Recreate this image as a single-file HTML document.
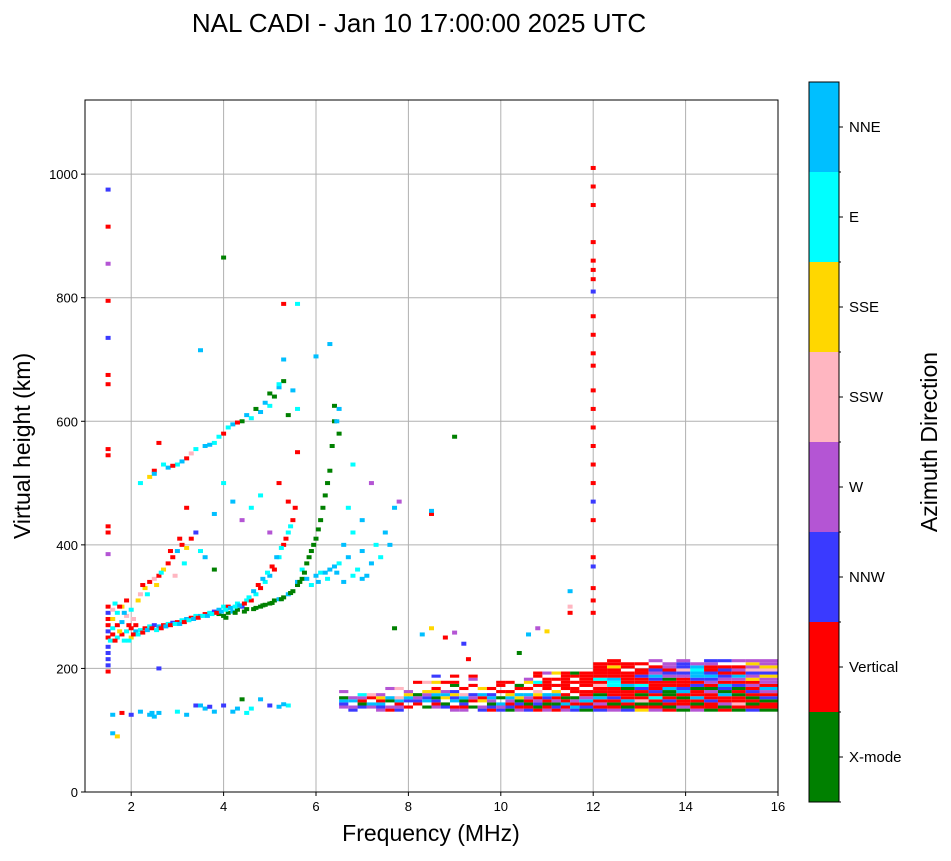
<!DOCTYPE html>
<html><head><meta charset="utf-8"><style>
body{margin:0;background:#fff;font-family:"Liberation Sans",sans-serif}
svg text{font-family:"Liberation Sans",sans-serif}
</style></head><body>
<svg id="chart" width="951" height="856">
<text x="419" y="32" font-size="26" text-anchor="middle">NAL CADI - Jan 10 17:00:00 2025 UTC</text>
<g id="grid"></g><g id="marks"></g><g id="axes"></g><g id="cbar"></g>
</svg>
<script>
const xTicks=[2,4,6,8,10,12,14,16];
const yTicks=[0,200,400,600,800,1000];
const cbLabels=["X-mode","Vertical","NNW","W","SSW","SSE","E","NNE"];
const cbColors=["#008000","#ff0000","#3a3aff","#b455d4","#ffb6c1","#ffd700","#00ffff","#00bfff"];
const codeMap={g:0,r:1,b:2,p:3,k:4,y:5,c:6,s:7};
// scattered echo cells: freq,height,colorcode
const cells=("1.5,195,r 1.5,205,b 1.5,215,b 1.5,225,b 1.5,235,b 1.5,250,r 1.5,260,b 1.5,270,r 1.5,280,r 1.5,290,b 1.5,300,r 1.5,385,p 1.5,420,r 1.5,430,r 1.5,545,r 1.5,555,r 1.5,660,r 1.5,675,r 1.5,735,b 1.5,795,r 1.5,855,p 1.5,915,r 1.5,975,b "+
"1.6,255,r 1.6,265,c 1.6,280,y 1.6,295,k 1.7,250,c 1.7,270,r 1.7,290,c 1.8,255,r 1.8,275,s 1.8,300,y 1.9,260,c 1.9,285,k 1.9,310,r 2.0,250,y 2.0,265,r 2.0,295,c 2.1,260,s 2.1,270,r 2.2,262,c 2.2,320,k 2.3,265,r 2.3,330,y 2.4,268,c 2.4,340,r 2.5,270,b 2.5,345,k 2.6,268,s 2.6,350,r 2.7,270,r 2.7,360,y 2.8,272,c 2.8,370,r 2.9,274,b 2.9,380,r 3.0,275,r 3.0,390,s 3.1,278,c 3.1,400,r 3.2,280,s 3.2,395,y 3.3,282,r 3.3,410,r 3.4,285,c 3.4,420,b 3.5,285,s 3.5,390,c 3.6,288,r 3.6,380,s 3.7,290,c 3.8,292,b 3.8,360,g 3.9,288,g 3.9,295,s 4.0,285,g 4.0,300,c 4.1,290,g 4.1,300,r 4.2,292,s 4.3,295,g 4.3,305,c 4.4,300,b 4.5,296,g 4.5,310,c 4.6,310,r 4.7,298,g 4.7,320,c 4.8,300,g 4.8,330,r 4.9,303,g 4.9,340,c 5.0,305,g 5.0,350,s 5.1,310,g 5.1,360,r 5.2,312,s 5.2,380,c 5.3,315,g 5.3,400,r 5.4,320,s 5.4,420,c 5.5,325,g 5.5,440,r 5.6,335,g 5.6,340,s 5.7,345,g 5.7,360,c 5.8,370,g 5.8,345,s 5.9,390,g 5.9,335,c 6.0,410,g 6.0,350,s 6.1,440,g 6.1,355,c 6.2,480,g 6.2,355,s 6.3,520,g 6.3,360,s 6.4,600,g 6.4,625,g 6.4,365,s 6.5,620,s 6.5,370,c 6.7,380,s 6.9,360,c 7.0,390,s 7.1,350,s 7.3,400,c 7.5,420,s 7.7,460,s 7.8,470,p "+
"1.55,245,c 1.65,245,r 1.65,305,c 1.75,300,r 1.75,260,y 1.85,245,c 1.85,290,s 1.95,270,r 1.95,245,c 2.05,255,r 2.05,280,k 2.15,255,c 2.15,310,y 2.25,258,r 2.25,335,r 2.35,262,s 2.35,320,c 2.45,265,r 2.55,262,c 2.55,335,y 2.65,265,r 2.65,355,c 2.75,268,s 2.85,270,r 2.85,390,r 2.95,272,c 2.95,350,k 3.05,272,s 3.05,410,r 3.15,275,r 3.15,370,c 3.25,278,c 3.35,280,s 3.45,282,r 3.55,285,c 3.65,285,s 3.75,288,c 3.85,290,r 3.95,292,s 4.05,295,c 4.15,298,s 4.25,300,c 4.35,302,s 4.45,305,r 4.55,315,c 4.65,325,s 4.75,335,r 4.85,345,s 4.95,355,c 5.05,365,r 5.15,380,s 5.25,395,c 5.35,410,r 5.45,430,c 5.55,460,r 4.05,282,g 4.25,290,g 4.45,292,g 4.65,296,g 4.85,302,g 5.05,306,g 5.25,312,g 5.45,322,g 5.65,340,g 5.75,355,g 5.85,380,g 5.95,400,g 6.05,425,g 6.15,460,g 6.25,500,g 6.35,560,g 6.45,600,s 6.05,340,s 6.25,345,c 6.45,355,s 6.6,340,s 6.8,350,c 7.0,345,s 7.2,370,s 7.4,380,c 7.6,400,s 6.6,400,s 6.8,420,c 7.0,440,s 6.7,460,c "+
"2.2,500,c 2.4,510,y 2.5,520,r 2.6,565,r 2.8,525,s 3.0,530,c 3.2,540,r 3.4,555,c 3.6,560,s 3.8,565,c 4.0,580,r 4.2,595,s 4.4,600,g 4.6,605,c 4.8,615,s 5.0,625,c 5.1,640,g 5.2,655,s 5.3,665,g 5.5,650,s 5.6,620,c 5.3,700,s 5.6,790,c 5.3,790,r 4.0,865,g 3.5,715,s 6.3,725,s 6.0,705,s 6.5,580,g 6.8,530,c 7.2,500,p 8.5,450,r 8.5,455,s 9.0,575,g "+
"2.5,515,s 2.7,530,c 2.9,528,r 3.1,535,s 3.3,548,k 3.7,562,s 3.9,575,c 4.1,590,c 4.3,598,r 4.5,610,s 4.7,620,g 4.9,630,s 5.0,645,g 5.2,660,c 5.4,610,g 4.2,470,s 4.0,500,c 4.6,460,c 3.8,450,s 3.2,460,r 4.8,480,c 5.2,500,r 5.4,470,r 5.6,550,r 5.0,420,p 4.4,440,p "+
"1.6,125,s 1.8,128,r 2.0,125,b 2.2,130,s 2.4,125,s 2.6,128,s 3.0,130,c 3.2,125,s 3.4,140,b 3.6,135,s 3.8,130,s 4.0,140,b 4.2,130,s 4.4,150,g 4.6,135,c 4.8,150,s 5.0,140,b 5.2,138,s 5.4,140,c 1.6,95,s 1.7,90,y 2.6,200,b 2.45,128,s 2.5,122,s 3.5,140,s 3.7,138,b 4.3,135,s 4.5,128,c 5.3,142,s "+
"8.3,255,s 8.5,265,y 8.8,250,r 9.0,258,p 9.2,240,b 9.3,215,r 10.4,225,g 10.6,255,s 10.8,265,p 11.0,260,y 11.5,325,s 11.5,300,k 11.5,290,r 7.7,265,g "+
"12,290,r 12,310,r 12,330,r 12,365,b 12,380,r 12,440,r 12,470,b 12,500,r 12,530,r 12,560,r 12,590,r 12,620,r 12,650,r 12,690,r 12,710,r 12,740,r 12,770,r 12,810,b 12,830,r 12,845,r 12,860,r 12,890,r 12,950,r 12,980,r 12,1010,r").split(" ").map(s=>s.split(","));
// echo band columns: start freq, color string per 5 km from 120 km upward ('.' = none)
const colF=[6.5,6.7,6.9,7.1,7.3,7.5,7.7,7.9,8.1,8.3,8.5,8.7,8.9,9.1,9.3,9.5,9.7,9.9,10.1,10.3,10.5,10.7,10.9,11.1,11.3,11.5,11.7,12.0,12.3,12.6,12.9,13.2,13.5,13.8,14.1,14.4,14.7,15.0,15.3,15.6];
const colS=["...pbsg.p..","..bp.sp.","...bgrpc","...ps.rk.","..pbsryp","..rp.gs..p","..bprsk..k","...r.bsyp","....rbpg...r","...g.sbpy..k","...prbgsyr.y.b","...bg.ysp..r","..pr.sbyb.gr.r","..prbgsk.r","...g.rpb..r.pr","..bp.yrs.y","..rbgpsb.r","..bps.g.r.rr","..gbrpsyr..r","..prbgys.rg.","..brgrps.r.yp","..rgbpryk.rc.rr","..prgrbs.rrrr.p","..rbgprsy.r.r.y","..prsrgr.rrrrrr","..bsrpg.rr.r.rg","..gbrsprr.rrrrr","..brprsgrrkrcrrrrr","..prgrbrrrccsrrryrr","..bgrsrrrgsrrrr.rr","..yrgkrgrbcrrbrr.r","..prgrcrbrrrbspbr.p","..rgrbrggsrrgpbrpp","..gprrgrsbrrrpbkbbp","..prgrsrrgbrbsscsp","..grrbrrpgrpbsbrrpb","..rgprrsgbsrpbrbr.b","..grkrrgrgbrpsrpr.p","..brgrgrbrprypbkpyp","..grrgbrpsrppybkypp"];
const X0=85,X1=778,Y0=792,Y1=100;
const xs=f=>X0+(f-1)/(16-1)*(X1-X0);
const ys=h=>Y0-h/1120*(Y0-Y1);
const NS="http://www.w3.org/2000/svg";
function mk(tag,attrs,parent){const e=document.createElementNS(NS,tag);for(const k in attrs)e.setAttribute(k,attrs[k]);parent.appendChild(e);return e;}
const grid=document.getElementById('grid'),marks=document.getElementById('marks'),axes=document.getElementById('axes'),cbar=document.getElementById('cbar');
xTicks.forEach(t=>{const l=mk('line',{x1:xs(t),x2:xs(t),y1:Y1,y2:Y0,stroke:'#b0b0b0','stroke-width':1},grid);


mk('line',{x1:xs(t),x2:xs(t),y1:Y0,y2:Y0+4,stroke:'#000'},axes);
const tx=mk('text',{x:xs(t),y:Y0+19,'font-size':13,'text-anchor':'middle'},axes);tx.textContent=t;

});
yTicks.forEach(t=>{const l=mk('line',{x1:X0,x2:X1,y1:ys(t),y2:ys(t),stroke:'#b0b0b0','stroke-width':1},grid);


mk('line',{x1:X0-4,x2:X0,y1:ys(t),y2:ys(t),stroke:'#000'},axes);
const tx=mk('text',{x:X0-7,y:ys(t)+5,'font-size':13,'text-anchor':'end'},axes);tx.textContent=t;

});
cells.forEach(c=>{const f=+c[0],h=+c[1];const r=mk('rect',{x:xs(f)-2.5,y:ys(h)-2,width:5,height:4,fill:cbColors[codeMap[c[2]]]},marks);

});
colF.forEach((f,i)=>{const s=colS[i];const w=(i<colF.length-1?colF[i+1]-f:0.4);
for(let j=0;j<s.length;j++){const ch=s[j];if(ch==='.')continue;const h=120+j*5;
const r=mk('rect',{x:xs(f),y:ys(h+5),width:xs(f+w)-xs(f),height:ys(h)-ys(h+5),fill:cbColors[codeMap[ch]]},marks);

}});
const fr=mk('rect',{x:X0,y:Y1,width:X1-X0,height:Y0-Y1,fill:'none',stroke:'#000','stroke-width':1},axes);


const xl=mk('text',{x:431,y:841,'font-size':23,'text-anchor':'middle'},axes);xl.textContent='Frequency (MHz)';


const yl=mk('text',{x:30,y:446,'font-size':23,'text-anchor':'middle',transform:'rotate(-90 30 446)'},axes);yl.textContent='Virtual height (km)';


const CB0=802,CBH=90;
cbColors.forEach((col,i)=>{const r=mk('rect',{x:809,y:CB0-(i+1)*CBH,width:30,height:CBH,fill:col},cbar);


mk('line',{x1:839,x2:843,y1:CB0-(i+0.5)*CBH,y2:CB0-(i+0.5)*CBH,stroke:'#000'},cbar);
mk('line',{x1:839,x2:841,y1:CB0-i*CBH,y2:CB0-i*CBH,stroke:'#000'},cbar);
const t=mk('text',{x:849,y:CB0-(i+0.5)*CBH+5,'font-size':15},cbar);t.textContent=cbLabels[i];

});
mk('rect',{x:809,y:82,width:30,height:720,fill:'none',stroke:'#000'},cbar);
const ct=mk('text',{x:937,y:442,'font-size':23,'text-anchor':'middle',transform:'rotate(-90 937 442)'},cbar);ct.textContent='Azimuth Direction';


</script>
</body></html>
